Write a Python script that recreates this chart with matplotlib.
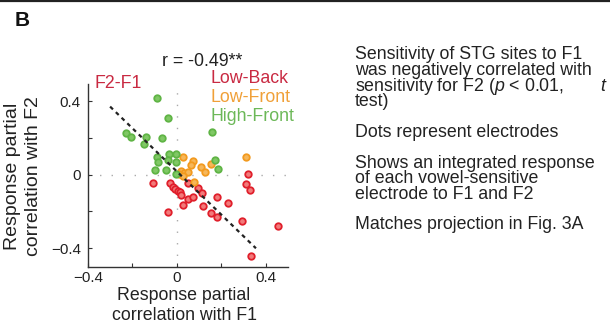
import matplotlib
matplotlib.use("Agg")
import matplotlib.pyplot as plt
from matplotlib.lines import Line2D

plt.rcParams['font.family'] = ['Liberation Sans', 'DejaVu Sans']
plt.rcParams['mathtext.fontset'] = 'custom'
plt.rcParams['mathtext.rm'] = 'Liberation Sans'
plt.rcParams['mathtext.it'] = 'Liberation Sans:italic'

# Electrode partial correlations (F1, F2) grouped by preferred vowel class
high_front_f1 = [-0.090, -0.037, -0.228, -0.207, -0.140, -0.147, -0.066, 0.158,
                 -0.090, -0.035, -0.005, -0.083, -0.038, -0.003, -0.098, -0.050,
                 -0.003, 0.172, 0.188]
high_front_f2 = [0.418, 0.306, 0.227, 0.205, 0.203, 0.165, 0.198, 0.230,
                 0.095, 0.112, 0.110, 0.067, 0.078, 0.068, 0.026, 0.026,
                 0.004, 0.078, 0.030]

low_front_f1 = [0.028, 0.072, 0.063, 0.110, 0.127, 0.155, 0.311, 0.020,
                0.035, 0.050, 0.012, 0.030, 0.080]
low_front_f2 = [0.098, 0.074, 0.052, 0.042, 0.016, 0.056, 0.095, 0.020,
                0.010, 0.015, 0.002, -0.008, -0.038]

low_back_f1 = [-0.105, -0.030, -0.018, -0.008, 0.005, 0.015, 0.020, -0.040,
               0.027, 0.052, 0.052, 0.075, 0.095, 0.113, 0.117, 0.183, 0.230,
               0.153, 0.180, 0.293, 0.322, 0.311, 0.328, 0.458, 0.333]
low_back_f2 = [-0.047, -0.043, -0.065, -0.080, -0.087, -0.095, -0.112, -0.203,
               -0.165, -0.047, -0.132, -0.123, -0.074, -0.098, -0.168, -0.120,
               -0.156, -0.210, -0.228, -0.250, 0.004, -0.052, -0.083, -0.277,
               -0.442]

# Regression line end points
fit_f1 = [-0.300, 0.357]
fit_f2 = [0.370, -0.400]

tick_values = [-0.4, -0.2, 0.0, 0.2, 0.4]
tick_labels = ['\u22120.4', '', '0', '', '0.4']

W, H = 610, 327
fig = plt.figure(figsize=(W / 100, H / 100), dpi=100)


def fx(x):
    return x / W


def fy(y):
    return 1 - y / H


ink = '#222222'
red_edge, red_face = '#e01f2b', '#f27a7a'
org_edge, org_face = '#f29a1f', '#f6b75a'
grn_edge, grn_face = '#5fb445', '#80c865'
label_red = '#c92a42'

# top rule
fig.add_artist(Line2D([0, 1], [fy(1), fy(1)], color=ink, lw=1.6))

x0, x1 = 87.9, 287.7
y_top, y_bot = 84.5, 266.7
ax = fig.add_axes([fx(x0), fy(y_bot), (x1 - x0) / W, (y_bot - y_top) / H])
ax.set_xlim(-0.4, 0.5)
ax.set_ylim(-0.5, 0.49)

for s in ('top', 'right'):
    ax.spines[s].set_visible(False)
for s in ('left', 'bottom'):
    ax.spines[s].set_color('#333333')
    ax.spines[s].set_linewidth(1.0)

ax.axhline(0, color='#aaaaaa', lw=1.0, ls=(0, (1, 7.3)), zorder=1)
ax.axvline(0, color='#aaaaaa', lw=1.0, ls=(0, (1, 7.3)), zorder=1)

ms = 22
ax.scatter(low_back_f1, low_back_f2, s=ms, facecolor=red_face,
           edgecolor=red_edge, linewidths=1.3, zorder=3)
ax.scatter(low_front_f1, low_front_f2, s=ms, facecolor=org_face,
           edgecolor=org_edge, linewidths=1.3, zorder=3)
ax.scatter(high_front_f1, high_front_f2, s=ms, facecolor=grn_face,
           edgecolor=grn_edge, linewidths=1.3, zorder=3)

ax.plot(fit_f1, fit_f2, color='#222222', lw=1.6, ls=(0, (1.8, 1.8)), zorder=4)

ax.set_xticks(tick_values)
ax.set_xticklabels(tick_labels)
ax.set_yticks(tick_values)
ax.set_yticklabels(tick_labels)
ax.tick_params(direction='in', length=3, width=0.8, colors='#333333',
               labelsize=11, labelcolor=ink)
ax.tick_params(axis='x', pad=3)
ax.tick_params(axis='y', pad=5)

# axis titles
fig.text(fx(184), fy(295), 'Response partial', ha='center', va='center',
         fontsize=12.8, color=ink)
fig.text(fx(184), fy(316), 'correlation with F1', ha='center', va='center',
         fontsize=12.8, color=ink)
fig.text(fx(13), fy(176), 'Response partial', ha='center', va='center',
         rotation=90, fontsize=14, color=ink)
fig.text(fx(33.5), fy(176), 'correlation with F2', ha='center', va='center',
         rotation=90, fontsize=14, color=ink)

# panel letter, statistic and group labels
fig.text(fx(15), fy(20.5), 'B', ha='left', va='center', fontsize=15,
         fontweight='bold', color='#111111')
fig.text(fx(202), fy(62), 'r = -0.49**', ha='center', va='center',
         fontsize=12.8, color=ink)
fig.text(fx(118.5), fy(84), 'F2-F1', ha='center', va='center',
         fontsize=12.8, color=label_red)
fig.text(fx(210), fy(78.5), 'Low-Back', ha='left', va='center',
         fontsize=12.8, color=label_red)
fig.text(fx(210), fy(97.5), 'Low-Front', ha='left', va='center',
         fontsize=12.8, color='#f0a038')
fig.text(fx(210), fy(116.5), 'High-Front', ha='left', va='center',
         fontsize=12.8, color='#6cb858')

# notes
notes = [
    (59.3, 'Sensitivity of STG sites to F1'),
    (75.0, 'was negatively correlated with'),
    (91.0, 'sensitivity for F2 ($p$ < 0.01,'),
    (106.5, 'test)'),
    (137.3, 'Dots represent electrodes'),
    (167.7, 'Shows an integrated response'),
    (183.3, 'of each vowel-sensitive'),
    (199.3, 'electrode to F1 and F2'),
    (229.0, 'Matches projection in Fig. 3A'),
]
for yb, line in notes:
    fig.text(fx(355), fy(yb), line, ha='left', va='baseline',
             fontsize=12.8, color=ink)
fig.text(fx(600), fy(91.0), 't', ha='left', va='baseline', fontsize=12.8,
         style='italic', color=ink)

fig.savefig('out.png', dpi=100)
